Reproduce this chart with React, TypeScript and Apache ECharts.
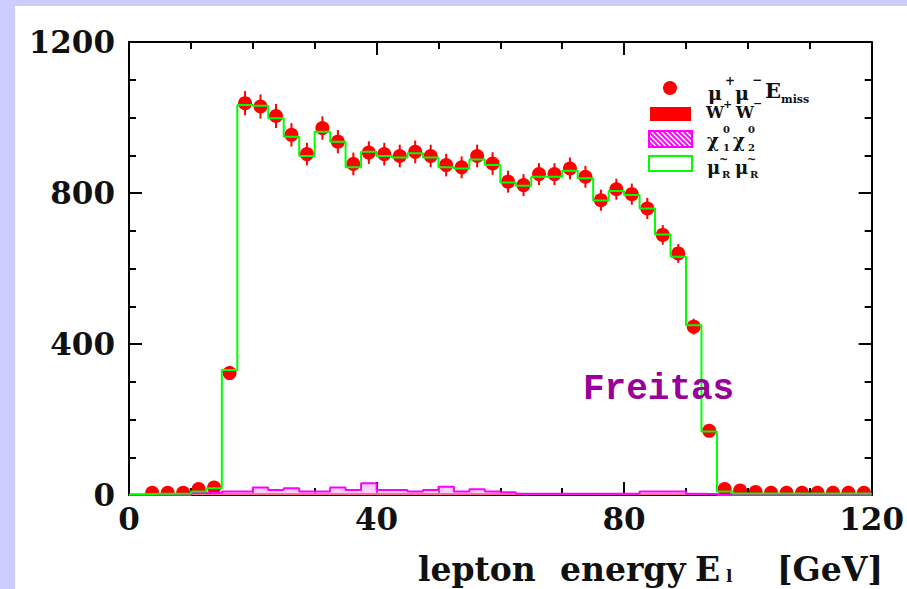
import React, { useEffect, useRef } from "react";
import * as echarts from "echarts";

// Bin edges (GeV), 2.5 GeV bins from 0 to 120
const binEdges = [
  0, 2.5, 5, 7.5, 10, 12.5, 15, 17.5, 20, 22.5, 25, 27.5, 30, 32.5, 35, 37.5,
  40, 42.5, 45, 47.5, 50, 52.5, 55, 57.5, 60, 62.5, 65, 67.5, 70, 72.5, 75,
  77.5, 80, 82.5, 85, 87.5, 90, 92.5, 95, 97.5, 100, 102.5, 105, 107.5, 110,
  112.5, 115, 117.5, 120,
];

// Data: mu+ mu- E_miss (events per bin) and its errors
const dataCounts = [
  null, 6, 6, 6, 16, 20, 323, 1038, 1029, 1004, 954, 903, 972, 936, 877, 907,
  903, 898, 909, 898, 874, 868, 898, 878, 830, 821, 850, 850, 865, 843, 781,
  810, 797, 759, 689, 640, 446, 170, 16, 12, 8, 6, 6, 6, 6, 6, 6, 6,
];
const dataErrors = [
  0, 4, 4, 4, 6, 7, 18, 32, 32, 32, 31, 30, 31, 31, 30, 30,
  30, 30, 30, 30, 30, 29, 30, 30, 29, 29, 29, 29, 29, 29, 28,
  28, 28, 28, 26, 25, 21, 13, 4, 4, 3, 3, 3, 3, 3, 3, 3, 3,
];

// Smuon_R pair (green histogram)
const smuonR = [
  2, 3, 3, 4, 9, 18, 331, 1033, 1031, 998, 949, 898, 962, 936, 868, 909,
  898, 894, 905, 894, 868, 865, 889, 874, 828, 819, 843, 843, 859, 839, 780,
  805, 795, 759, 690, 631, 450, 168, 9, 4, 4, 4, 4, 4, 4, 4, 4, 4,
];

// W+W- background (red filled)
const wwBkg = [
  2, 3, 3, 3, 4, 4, 4, 4, 4, 4, 4, 4, 4, 4, 4, 4,
  4, 4, 4, 4, 4, 4, 4, 4, 3, 3, 3, 3, 3, 3, 3,
  3, 3, 3, 3, 3, 3, 3, 3, 3, 3, 3, 3, 3, 3, 3, 3, 3,
];

// chi1 chi2 background (magenta hatched)
const chiBkg = [
  0, 0, 0, 0, 5, 6, 9, 9, 20, 13, 18, 9, 9, 20, 13, 31,
  13, 13, 9, 13, 22, 9, 15, 9, 7, 3, 3, 3, 3, 3, 3,
  3, 3, 9, 9, 9, 3, 2, 0, 0, 0, 0, 0, 0, 0, 0, 0, 0,
];

const xTickLabels = ["0", "40", "80", "120"];
const yTickLabels = ["0", "400", "800", "1200"];

const SERIF = "'DejaVu Serif', serif";

function stepData(values: number[]) {
  return binEdges.map((e, i) => [e, values[Math.min(i, values.length - 1)]]);
}

function hatchLines(x0: number, y0: number, w: number, h: number, step: number) {
  const out: any[] = [];
  const x1 = x0 + w;
  for (let k = -h; k < w; k += step) {
    let sx = x0 + k, sy = y0, ex = x0 + k + h, ey = y0 + h;
    if (sx < x0) { sy += x0 - sx; sx = x0; }
    if (ex > x1) { ey -= ex - x1; ex = x1; }
    if (ex <= sx) continue;
    out.push({
      type: "line",
      z: 100,
      shape: { x1: sx, y1: sy, x2: ex, y2: ey },
      style: { stroke: "#ff00ff", lineWidth: 2 },
    });
  }
  return out;
}

function txt(text: string, x: number, y: number, size: number, weight = "bold") {
  return {
    type: "text",
    z: 100,
    x,
    y,
    style: {
      text,
      fill: "#111",
      font: `${weight} ${size}px ${SERIF}`,
      align: "left",
      verticalAlign: "middle",
    },
  };
}

export default function App() {
  const ref = useRef<HTMLDivElement>(null);

  useEffect(() => {
    document.body.style.margin = "0";
    if (!ref.current) return;
    const chart = echarts.init(ref.current, null, { renderer: "svg" });

    const centers = binEdges.slice(0, -1).map((e, i) => (e + binEdges[i + 1]) / 2);
    const pointData = centers
      .map((c, i) => [c, dataCounts[i], dataErrors[i]])
      .filter((d) => d[1] !== null);

    const axisCommon = {
      type: "value",
      axisLine: { show: true, onZero: false, lineStyle: { color: "#000", width: 2 } },
      axisTick: { show: true, inside: true, length: 13, lineStyle: { color: "#000", width: 2 } },
      minorTick: { show: true, splitNumber: 4, length: 7, lineStyle: { color: "#000", width: 2 } },
      splitLine: { show: false },
      minorSplitLine: { show: false },
    };
    const labelStyle = {
      fontFamily: SERIF,
      fontWeight: "bold",
      fontSize: 31,
      color: "#111",
    };

    const legendGraphics: any[] = [
      // entry 1: data dot
      { type: "circle", z: 100, shape: { cx: 670, cy: 88, r: 7 }, style: { fill: "#ff0000" } },
      txt("μ", 708, 93, 19),
      txt("+", 725, 81, 12),
      txt("μ", 735, 93, 19),
      txt("−", 752, 80, 12),
      txt("E", 765, 90, 21),
      txt("miss", 781, 99, 11),
      // entry 2: WW filled
      { type: "rect", z: 100, shape: { x: 650, y: 107, width: 41, height: 14 }, style: { fill: "#ff0000" } },
      txt("W", 706, 112, 16),
      txt("+", 723, 104, 11),
      txt("W", 736, 112, 16),
      txt("−", 753, 103, 11),
      // entry 3: chi hatched
      { type: "rect", z: 100, shape: { x: 649, y: 131, width: 43, height: 16 }, style: { fill: "#fff", stroke: "#ff00ff", lineWidth: 2 } },
      ...hatchLines(649, 131, 43, 16, 5),
      txt("χ", 707, 140, 18),
      txt("0", 723, 129, 10),
      txt("1", 723, 147, 10),
      txt("χ", 733, 140, 18),
      txt("0", 748, 129, 10),
      txt("2", 748, 147, 10),
      // entry 4: smuon green outline
      { type: "rect", z: 100, shape: { x: 649, y: 156, width: 43, height: 15 }, style: { fill: "#fff", stroke: "#00ff00", lineWidth: 2 } },
      txt("μ", 707, 167, 18),
      txt("~", 719, 159, 11),
      txt("R", 722, 174, 10),
      txt("μ", 735, 167, 18),
      txt("~", 747, 159, 11),
      txt("R", 750, 174, 10),
    ];

    const option: any = {
      animation: false,
      backgroundColor: "transparent",
      grid: { left: 129, top: 42, right: 35, bottom: 94 },
      xAxis: [
        {
          ...axisCommon,
          position: "bottom",
          min: 0,
          max: 120,
          interval: 40,
          axisLabel: {
            ...labelStyle,
            margin: 8,
            formatter: (v: number) => xTickLabels[Math.round(v / 40)] ?? "",
          },
        },
        {
          ...axisCommon,
          position: "top",
          min: 0,
          max: 120,
          interval: 40,
          axisLabel: { show: false },
        },
      ],
      yAxis: [
        {
          ...axisCommon,
          position: "left",
          min: 0,
          max: 1200,
          interval: 400,
          axisLabel: {
            ...labelStyle,
            margin: 14,
            formatter: (v: number) => yTickLabels[Math.round(v / 400)] ?? "",
          },
        },
        {
          ...axisCommon,
          position: "right",
          min: 0,
          max: 1200,
          interval: 400,
          axisLabel: { show: false },
        },
      ],
      series: [
        {
          type: "custom",
          name: "data",
          z: 2,
          clip: true,
          data: pointData,
          encode: { x: 0, y: 1 },
          renderItem: (params: any, api: any) => {
            const x = api.value(0);
            const y = api.value(1);
            const e = api.value(2);
            const p = api.coord([x, y]);
            const t = api.coord([x, y + e]);
            const b = api.coord([x, y - e]);
            return {
              type: "group",
              children: [
                { type: "line", shape: { x1: p[0], y1: t[1], x2: p[0], y2: b[1] }, style: { stroke: "#ff0000", lineWidth: 2 } },
                { type: "circle", shape: { cx: p[0], cy: p[1], r: 7 }, style: { fill: "#ff0000" } },
              ],
            };
          },
        },
        {
          type: "line",
          name: "WW",
          z: 3,
          step: "end",
          showSymbol: false,
          data: stepData(wwBkg),
          lineStyle: { color: "#ff0000", width: 1 },
          areaStyle: { color: "#ff0000", opacity: 1 },
        },
        {
          type: "line",
          name: "chi",
          z: 4,
          step: "end",
          showSymbol: false,
          data: stepData(chiBkg),
          lineStyle: { color: "#ff00ff", width: 2 },
          areaStyle: { color: "#ffb0ff", opacity: 0.6 },
        },
        {
          type: "line",
          name: "smuonR",
          z: 5,
          step: "end",
          showSymbol: false,
          data: stepData(smuonR),
          lineStyle: { color: "#00ff00", width: 2 },
        },
      ],
      graphic: [
        ...legendGraphics,
        {
          type: "text",
          z: 100,
          x: 583,
          y: 389,
          style: {
            text: "Freitas",
            fill: "#990099",
            font: "bold 36px 'Liberation Mono', monospace",
            align: "left",
            verticalAlign: "middle",
          },
        },
        txt("lepton", 418, 569, 33),
        txt("energy", 560, 569, 33),
        txt("E", 695, 569, 33),
        txt("l", 726, 576, 17),
        txt("[GeV]", 777, 569, 33),
      ],
    };

    chart.setOption(option);
    return () => chart.dispose();
  }, []);

  return (
    <div style={{ position: "relative", width: 907, height: 589, background: "#ccccff", overflow: "hidden" }}>
      <div style={{ position: "absolute", left: 15, top: 6, width: 892, height: 583, background: "#ffffff" }} />
      <div ref={ref} style={{ position: "absolute", left: 0, top: 0, width: 907, height: 589 }} />
    </div>
  );
}
